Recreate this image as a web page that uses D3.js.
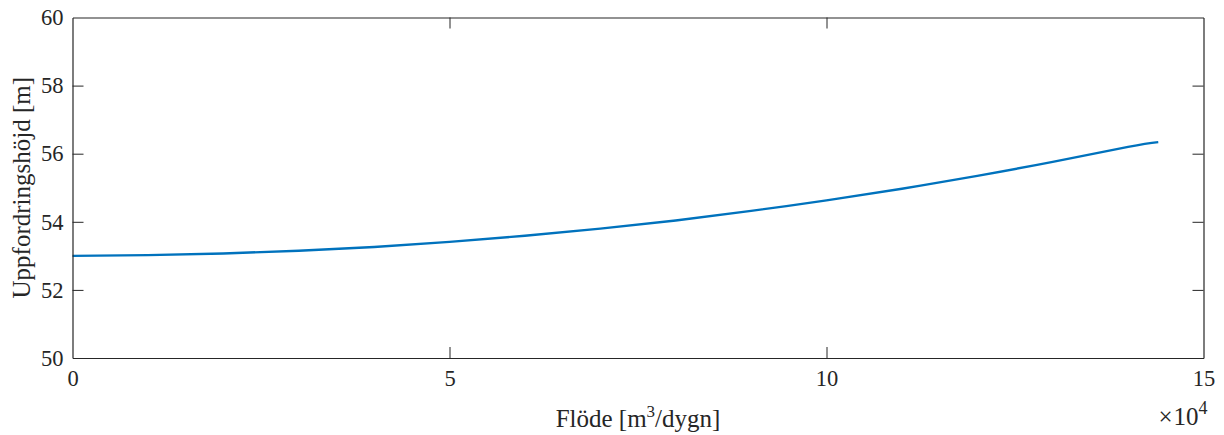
<!DOCTYPE html>
<html>
<head>
<meta charset="utf-8">
<script src="https://cdn.jsdelivr.net/npm/d3@7"></script>
<style>
    body { margin: 0; background: #fff; }
    svg text { font-family: "Liberation Serif", "Times New Roman", Times, "DejaVu Serif", serif !important; fill: #262626; }
</style>
</head>
<body>
<div id="chart"></div>
<script>
// flow [m3/dygn] and head [m]
let flow = [0, 10000, 20000, 30000, 40000, 50000, 60000, 70000, 80000, 90000,
            100000, 110000, 120000, 130000, 140000, 144000];
let head = [53.00, 53.02, 53.07, 53.15, 53.26, 53.41, 53.59, 53.80, 54.04, 54.32,
            54.63, 54.97, 55.35, 55.76, 56.20, 56.34];

let xTicks = [0, 50000, 100000, 150000];
let yTicks = [50, 52, 54, 56, 58, 60];

let width = 1224, height = 435;
let margin = {top: 17.5, right: 20.5, bottom: 77, left: 72.5};
let w = width - margin.left - margin.right;
let h = height - margin.top - margin.bottom;

let svg = d3.select("#chart").append("svg")
    .attr("width", width)
    .attr("height", height);

let g = svg.append("g")
    .attr("transform", `translate(${margin.left}, ${margin.top})`);

let x = d3.scaleLinear().domain([0, 150000]).range([0, w]);
let y = d3.scaleLinear().domain([50, 60]).range([h, 0]);

let data = flow.map((f, i) => ({flow: f, head: head[i]}));

// curve
let line = d3.line()
    .x(d => x(d.flow))
    .y(d => y(d.head))
    .curve(d3.curveNatural);

g.append("path")
    .datum(data)
    .attr("fill", "none")
    .attr("stroke", "#0072BD")
    .attr("stroke-width", 2.4)
    .attr("d", line);

// axes, MATLAB style: inward ticks, box around
let tickLen = 11;
let axisColor = "#262626";

let xAxis = g.append("g")
    .attr("transform", `translate(0, ${h})`)
    .call(d3.axisBottom(x).tickValues(xTicks).tickSizeInner(-tickLen).tickSizeOuter(0)
        .tickPadding(12).tickFormat(d => d / 10000));
let xAxisTop = g.append("g")
    .call(d3.axisTop(x).tickValues(xTicks).tickSizeInner(-tickLen).tickSizeOuter(0)
        .tickFormat(""));
let yAxis = g.append("g")
    .call(d3.axisLeft(y).tickValues(yTicks).tickSizeInner(-tickLen).tickSizeOuter(0)
        .tickPadding(9));
let yAxisRight = g.append("g")
    .attr("transform", `translate(${w}, 0)`)
    .call(d3.axisRight(y).tickValues(yTicks).tickSizeInner(-tickLen).tickSizeOuter(0)
        .tickFormat(""));

[xAxis, xAxisTop, yAxis, yAxisRight].forEach(a => {
    a.attr("font-family", null);
    a.selectAll("path.domain").attr("stroke", axisColor).attr("stroke-width", 1.2);
    a.selectAll("line").attr("stroke", axisColor).attr("stroke-width", 1);
    a.selectAll("text")
        .attr("font-size", 22.5)
        .attr("fill", axisColor);
});

// hide ticks sitting on the box corners
xAxis.selectAll(".tick line").filter(d => d === 0 || d === 150000).remove();
xAxisTop.selectAll(".tick line").filter(d => d === 0 || d === 150000).remove();
yAxis.selectAll(".tick line").filter(d => d === 50 || d === 60).remove();
yAxisRight.selectAll(".tick line").filter(d => d === 50 || d === 60).remove();

// axis labels
let xLabel = g.append("text")
    .attr("x", w / 2)
    .attr("y", h + 69)
    .attr("text-anchor", "middle")
    .attr("font-size", 25);
xLabel.append("tspan").text("Flöde [m");
xLabel.append("tspan").attr("font-size", 17).attr("dy", -10).text("3");
xLabel.append("tspan").attr("dy", 10).text("/dygn]");

g.append("text")
    .attr("transform", `translate(${-42.5}, ${h / 2}) rotate(-90)`)
    .attr("text-anchor", "middle")
    .attr("font-size", 25)
    .text("Uppfordringshöjd [m]");

// exponent label
let expLabel = g.append("text")
    .attr("x", w + 4)
    .attr("y", h + 67)
    .attr("text-anchor", "end")
    .attr("font-size", 25);
expLabel.append("tspan").text("×");
expLabel.append("tspan").attr("dx", 1).text("10");
expLabel.append("tspan").attr("font-size", 18).attr("dy", -11).text("4");
</script>
</body>
</html>
